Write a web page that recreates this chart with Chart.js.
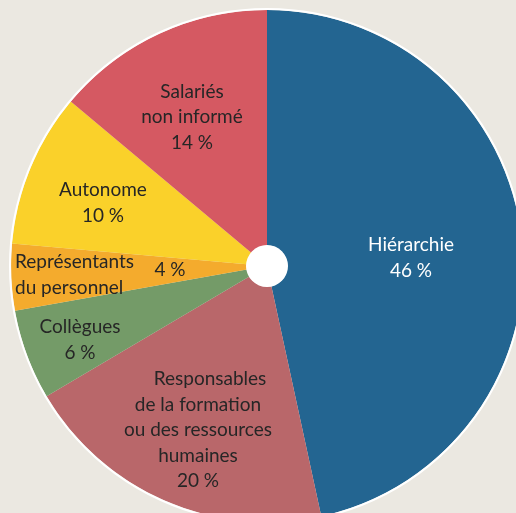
<!DOCTYPE html>
<html><head><meta charset="utf-8">
<script src="https://cdn.jsdelivr.net/npm/chart.js@4/dist/chart.umd.min.js"></script>
<style>
html,body{margin:0;padding:0;width:516px;height:513px;overflow:hidden;background:#ebe8e1;}
#wrap{position:absolute;left:0;top:0;width:534px;height:532px;}
</style></head><body>
<div id="wrap"><canvas id="c"></canvas></div>
<script>
const categories = ["Hiérarchie","Responsables de la formation ou des ressources humaines","Collègues","Représentants du personnel","Autonome","Salariés non informé"];
const values = [46.6, 19.9, 5.7, 4.2, 9.7, 13.9];
const percentLabels = ["46 %","20 %","6 %","4 %","10 %","14 %"];
const colors = ["#236591","#b9676a","#749b68","#f4ab2d","#fad12a","#d55962"];

// label layout: lines, offsets from centre in units of radius/256, alignment, color
const labelLayout = [
  {lines:["Hiérarchie", percentLabels[0]], dx:144, dy:-8, align:"center", color:"#ffffff"},
  {lines:["Responsables","de la formation","ou des ressources","humaines", percentLabels[1]], dx:-69, dy:164, align:"center", color:"#262626", firstDx:12},
  {lines:["Collègues", percentLabels[2]], dx:-187, dy:74, align:"center", color:"#262626"},
  {lines:["Représentants","du personnel"], dx:-252, dy:9, align:"left", color:"#262626", extra:{text:percentLabels[3], dx:-97, dy:4}},
  {lines:["Autonome", percentLabels[4]], dx:-164, dy:-63, align:"center", color:"#262626"},
  {lines:["Salariés","non informé", percentLabels[5]], dx:-75, dy:-149, align:"center", color:"#262626"}
];

const decor = {
  id:'decor',
  afterDatasetsDraw(chart){
    const ctx = chart.ctx;
    const arc = chart.getDatasetMeta(0).data[0];
    const cx = arc.x, cy = arc.y, R = arc.outerRadius, r = arc.innerRadius;
    ctx.save();
    ctx.beginPath(); ctx.arc(cx, cy, R+1, 0, Math.PI*2);
    ctx.strokeStyle = '#ffffff'; ctx.lineWidth = 2; ctx.stroke();
    ctx.beginPath(); ctx.arc(cx, cy, r+0.5, 0, Math.PI*2);
    ctx.fillStyle = '#ffffff'; ctx.fill();
    const k = R/256;
    const lh = 25.5*k;
    ctx.font = `${Math.round(19*k)}px Lato, "Open Sans", sans-serif`;
    ctx.textBaseline = 'middle';
    labelLayout.forEach(L=>{
      ctx.fillStyle = L.color;
      const n = L.lines.length;
      const y0 = cy + L.dy*k - (n-1)*lh/2;
      L.lines.forEach((t,i)=>{
        ctx.textAlign = L.align;
        let x = cx + L.dx*k;
        if(i===0 && L.firstDx) x += L.firstDx*k;
        ctx.fillText(t, x, y0 + i*lh);
      });
      if(L.extra){
        ctx.textAlign='center';
        ctx.fillText(L.extra.text, cx + L.extra.dx*k, cy + L.extra.dy*k);
      }
    });
    ctx.restore();
  }
};

new Chart(document.getElementById('c'), {
  type:'doughnut',
  data:{labels:categories, datasets:[{data:values, backgroundColor:colors, borderWidth:0, hoverOffset:0}]},
  options:{
    responsive:true, maintainAspectRatio:false, animation:false,
    cutout:'8%', rotation:0,
    layout:{padding:10},
    plugins:{legend:{display:false}, tooltip:{enabled:false}}
  },
  plugins:[decor]
});
</script>
</body></html>
